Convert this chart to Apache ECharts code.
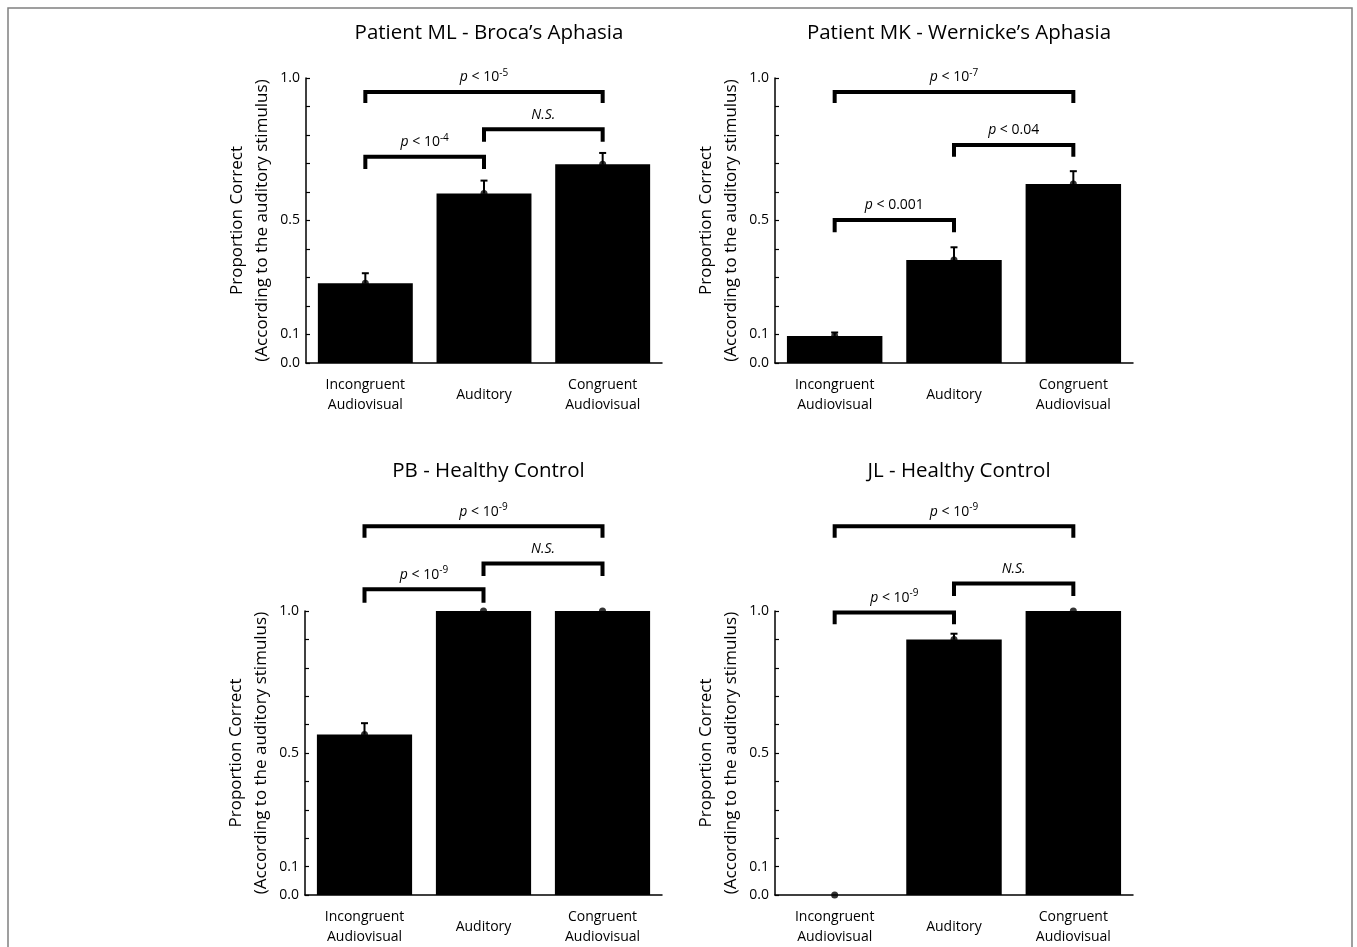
<!DOCTYPE html>
<html>
<head>
<meta charset="utf-8">
<script src="https://cdn.jsdelivr.net/npm/echarts@6/dist/echarts.min.js"></script>
<style>html,body{margin:0;padding:0;background:#fff;}#chart{width:1357px;height:947px;}</style>
</head>
<body>
<div id="chart"></div>
<script>
// ---- data ----
const categories = ['Incongruent\nAudiovisual', 'Auditory', 'Congruent\nAudiovisual'];
const panelTitles = ['Patient ML - Broca\u2019s Aphasia', 'Patient MK - Wernicke\u2019s Aphasia', 'PB - Healthy Control', 'JL - Healthy Control'];
const yAxisName = 'Proportion Correct\n(According to the auditory stimulus)';
const yTickLabels = [0.0, 0.1, 0.5, 1.0];

const mlValues = [0.28, 0.595, 0.697];
const mlErrors = [0.035, 0.045, 0.040];
const mkValues = [0.095, 0.361, 0.628];
const mkErrors = [0.012, 0.045, 0.045];
const pbValues = [0.565, 1.0, 1.0];
const pbErrors = [0.040, 0, 0];
const jlValues = [0.0, 0.90, 1.0];
const jlErrors = [0, 0.02, 0];

// brackets: [fromCategory, toCategory, barHeight, legBottom, label]
const mlBrackets = [[0, 2, 0.951, 0.912, 'p < 10^-5'], [1, 2, 0.820, 0.776, 'N.S.'], [0, 1, 0.724, 0.681, 'p < 10^-4']];
const mkBrackets = [[0, 2, 0.951, 0.912, 'p < 10^-7'], [1, 2, 0.765, 0.724, 'p < 0.04'], [0, 1, 0.502, 0.459, 'p < 0.001']];
const pbBrackets = [[0, 2, 1.298, 1.258, 'p < 10^-9'], [1, 2, 1.167, 1.123, 'N.S.'], [0, 1, 1.077, 1.029, 'p < 10^-9']];
const jlBrackets = [[0, 2, 1.298, 1.258, 'p < 10^-9'], [1, 2, 1.097, 1.053, 'N.S.'], [0, 1, 0.995, 0.953, 'p < 10^-9']];

// ---- layout ----
const FONT = 'Open Sans';
const panels = [
  { title: panelTitles[0], values: mlValues, errors: mlErrors, brackets: mlBrackets, grid: { left: 306, top: 78, width: 356, height: 285 }, titleTop: 18 },
  { title: panelTitles[1], values: mkValues, errors: mkErrors, brackets: mkBrackets, grid: { left: 775, top: 78, width: 358, height: 285 }, titleTop: 18 },
  { title: panelTitles[2], values: pbValues, errors: pbErrors, brackets: pbBrackets, grid: { left: 305, top: 611, width: 357, height: 285 }, titleTop: 456 },
  { title: panelTitles[3], values: jlValues, errors: jlErrors, brackets: jlBrackets, grid: { left: 775, top: 611, width: 358, height: 285 }, titleTop: 456 }
];

function fmtLabel(s) {
  if (s.charAt(0) === 'p') {
    const rest = s.slice(1);
    const m = rest.match(/^(.*?)\^(.*)$/);
    if (m) return '{i|p}' + m[1] + '{s|' + m[2] + '}';
    return '{i|p}' + rest;
  }
  return '{i|' + s + '}';
}

const chart = echarts.init(document.getElementById('chart'), null, { renderer: 'canvas' });

const option = {
  backgroundColor: '#fff',
  animation: false,
  textStyle: { fontFamily: FONT },
  title: panels.map(p => ({
    text: p.title,
    left: p.grid.left + p.grid.width / 2,
    top: p.titleTop,
    textAlign: 'center',
    textStyle: { fontFamily: FONT, fontSize: 20.5, fontWeight: 'normal', color: '#000' }
  })),
  graphic: [{
    type: 'rect', silent: true,
    shape: { x: 8, y: 8, width: 1344, height: 1000 },
    style: { fill: null, stroke: '#808080', lineWidth: 1.5 }
  }],
  grid: panels.map(p => Object.assign({ containLabel: false }, p.grid)),
  xAxis: panels.map((p, i) => ({
    type: 'category', gridIndex: i, data: categories, boundaryGap: true,
    axisLine: { lineStyle: { color: '#000', width: 1.5 } },
    axisTick: { show: false },
    axisLabel: {
      color: '#000', fontFamily: FONT, fontSize: 14, lineHeight: 20, margin: 12, interval: 0,
      formatter: v => v.indexOf('\n') < 0 ? '{m|' + v + '}' : v,
      rich: { m: { fontFamily: FONT, fontSize: 14, lineHeight: 40, color: '#000' } }
    }
  })),
  yAxis: panels.map((p, i) => ({
    type: 'value', gridIndex: i, min: 0, max: 1, interval: 0.1,
    name: yAxisName, nameLocation: 'middle', nameGap: 31,
    nameTextStyle: { color: '#000', fontFamily: FONT, fontSize: 17, lineHeight: 25 },
    splitLine: { show: false },
    axisLine: { show: true, lineStyle: { color: '#000', width: 1.5 } },
    axisTick: { show: true, inside: true, length: 4, lineStyle: { color: '#000', width: 1.2 } },
    axisLabel: {
      color: '#000', fontFamily: FONT, fontSize: 14, margin: 6,
      formatter: v => yTickLabels.some(t => Math.abs(t - v) < 1e-6) ? v.toFixed(1) : ''
    }
  })),
  series: []
};

panels.forEach((p, i) => {
  option.series.push({
    type: 'bar', xAxisIndex: i, yAxisIndex: i, data: p.values,
    barWidth: '80%', itemStyle: { color: '#000' }, silent: true
  });
  option.series.push({
    type: 'custom', xAxisIndex: i, yAxisIndex: i, silent: true,
    data: p.values.map((v, k) => [k, v, p.errors[k]]),
    renderItem: function (params, api) {
      const e = api.value(2);
      if (!(e > 0)) return null;
      const a = api.coord([api.value(0), api.value(1)]);
      const b = api.coord([api.value(0), api.value(1) + e]);
      return {
        type: 'group', children: [
          { type: 'line', shape: { x1: a[0], y1: a[1], x2: b[0], y2: b[1] }, style: { stroke: '#000', lineWidth: 2 } },
          { type: 'line', shape: { x1: b[0] - 3.5, y1: b[1], x2: b[0] + 3.5, y2: b[1] }, style: { stroke: '#000', lineWidth: 2 } }
        ]
      };
    }
  });
  option.series.push({
    type: 'scatter', xAxisIndex: i, yAxisIndex: i, data: p.values,
    symbol: 'circle', symbolSize: 7, itemStyle: { color: '#000' }, silent: true, z: 5
  });
  option.series.push({
    type: 'custom', xAxisIndex: i, yAxisIndex: i, silent: true, clip: false,
    data: p.brackets.map(b => [b[0], b[1], b[2], b[3]]),
    renderItem: function (params, api) {
      const lab = p.brackets[params.dataIndex][4];
      const s = api.coord([api.value(0), api.value(2)]);
      const t = api.coord([api.value(1), api.value(2)]);
      const legY = api.coord([api.value(0), api.value(3)])[1];
      return {
        type: 'group', children: [
          { type: 'polyline', shape: { points: [[s[0], legY], [s[0], s[1]], [t[0], s[1]], [t[0], legY]] },
            style: { stroke: '#000', lineWidth: 4, fill: null, lineJoin: 'miter', lineCap: 'butt' } },
          { type: 'text', x: (s[0] + t[0]) / 2, y: s[1] - 5,
            style: {
              text: fmtLabel(lab), fill: '#000', fontFamily: FONT, fontSize: 14,
              align: 'center', verticalAlign: 'bottom',
              rich: {
                i: { fontFamily: FONT, fontSize: 14, fontStyle: 'italic', fill: '#000', lineHeight: 19 },
                s: { fontFamily: FONT, fontSize: 10, fill: '#000', lineHeight: 9, verticalAlign: 'top' }
              }
            } }
        ]
      };
    }
  });
});

chart.setOption(option);
</script>
</body>
</html>
